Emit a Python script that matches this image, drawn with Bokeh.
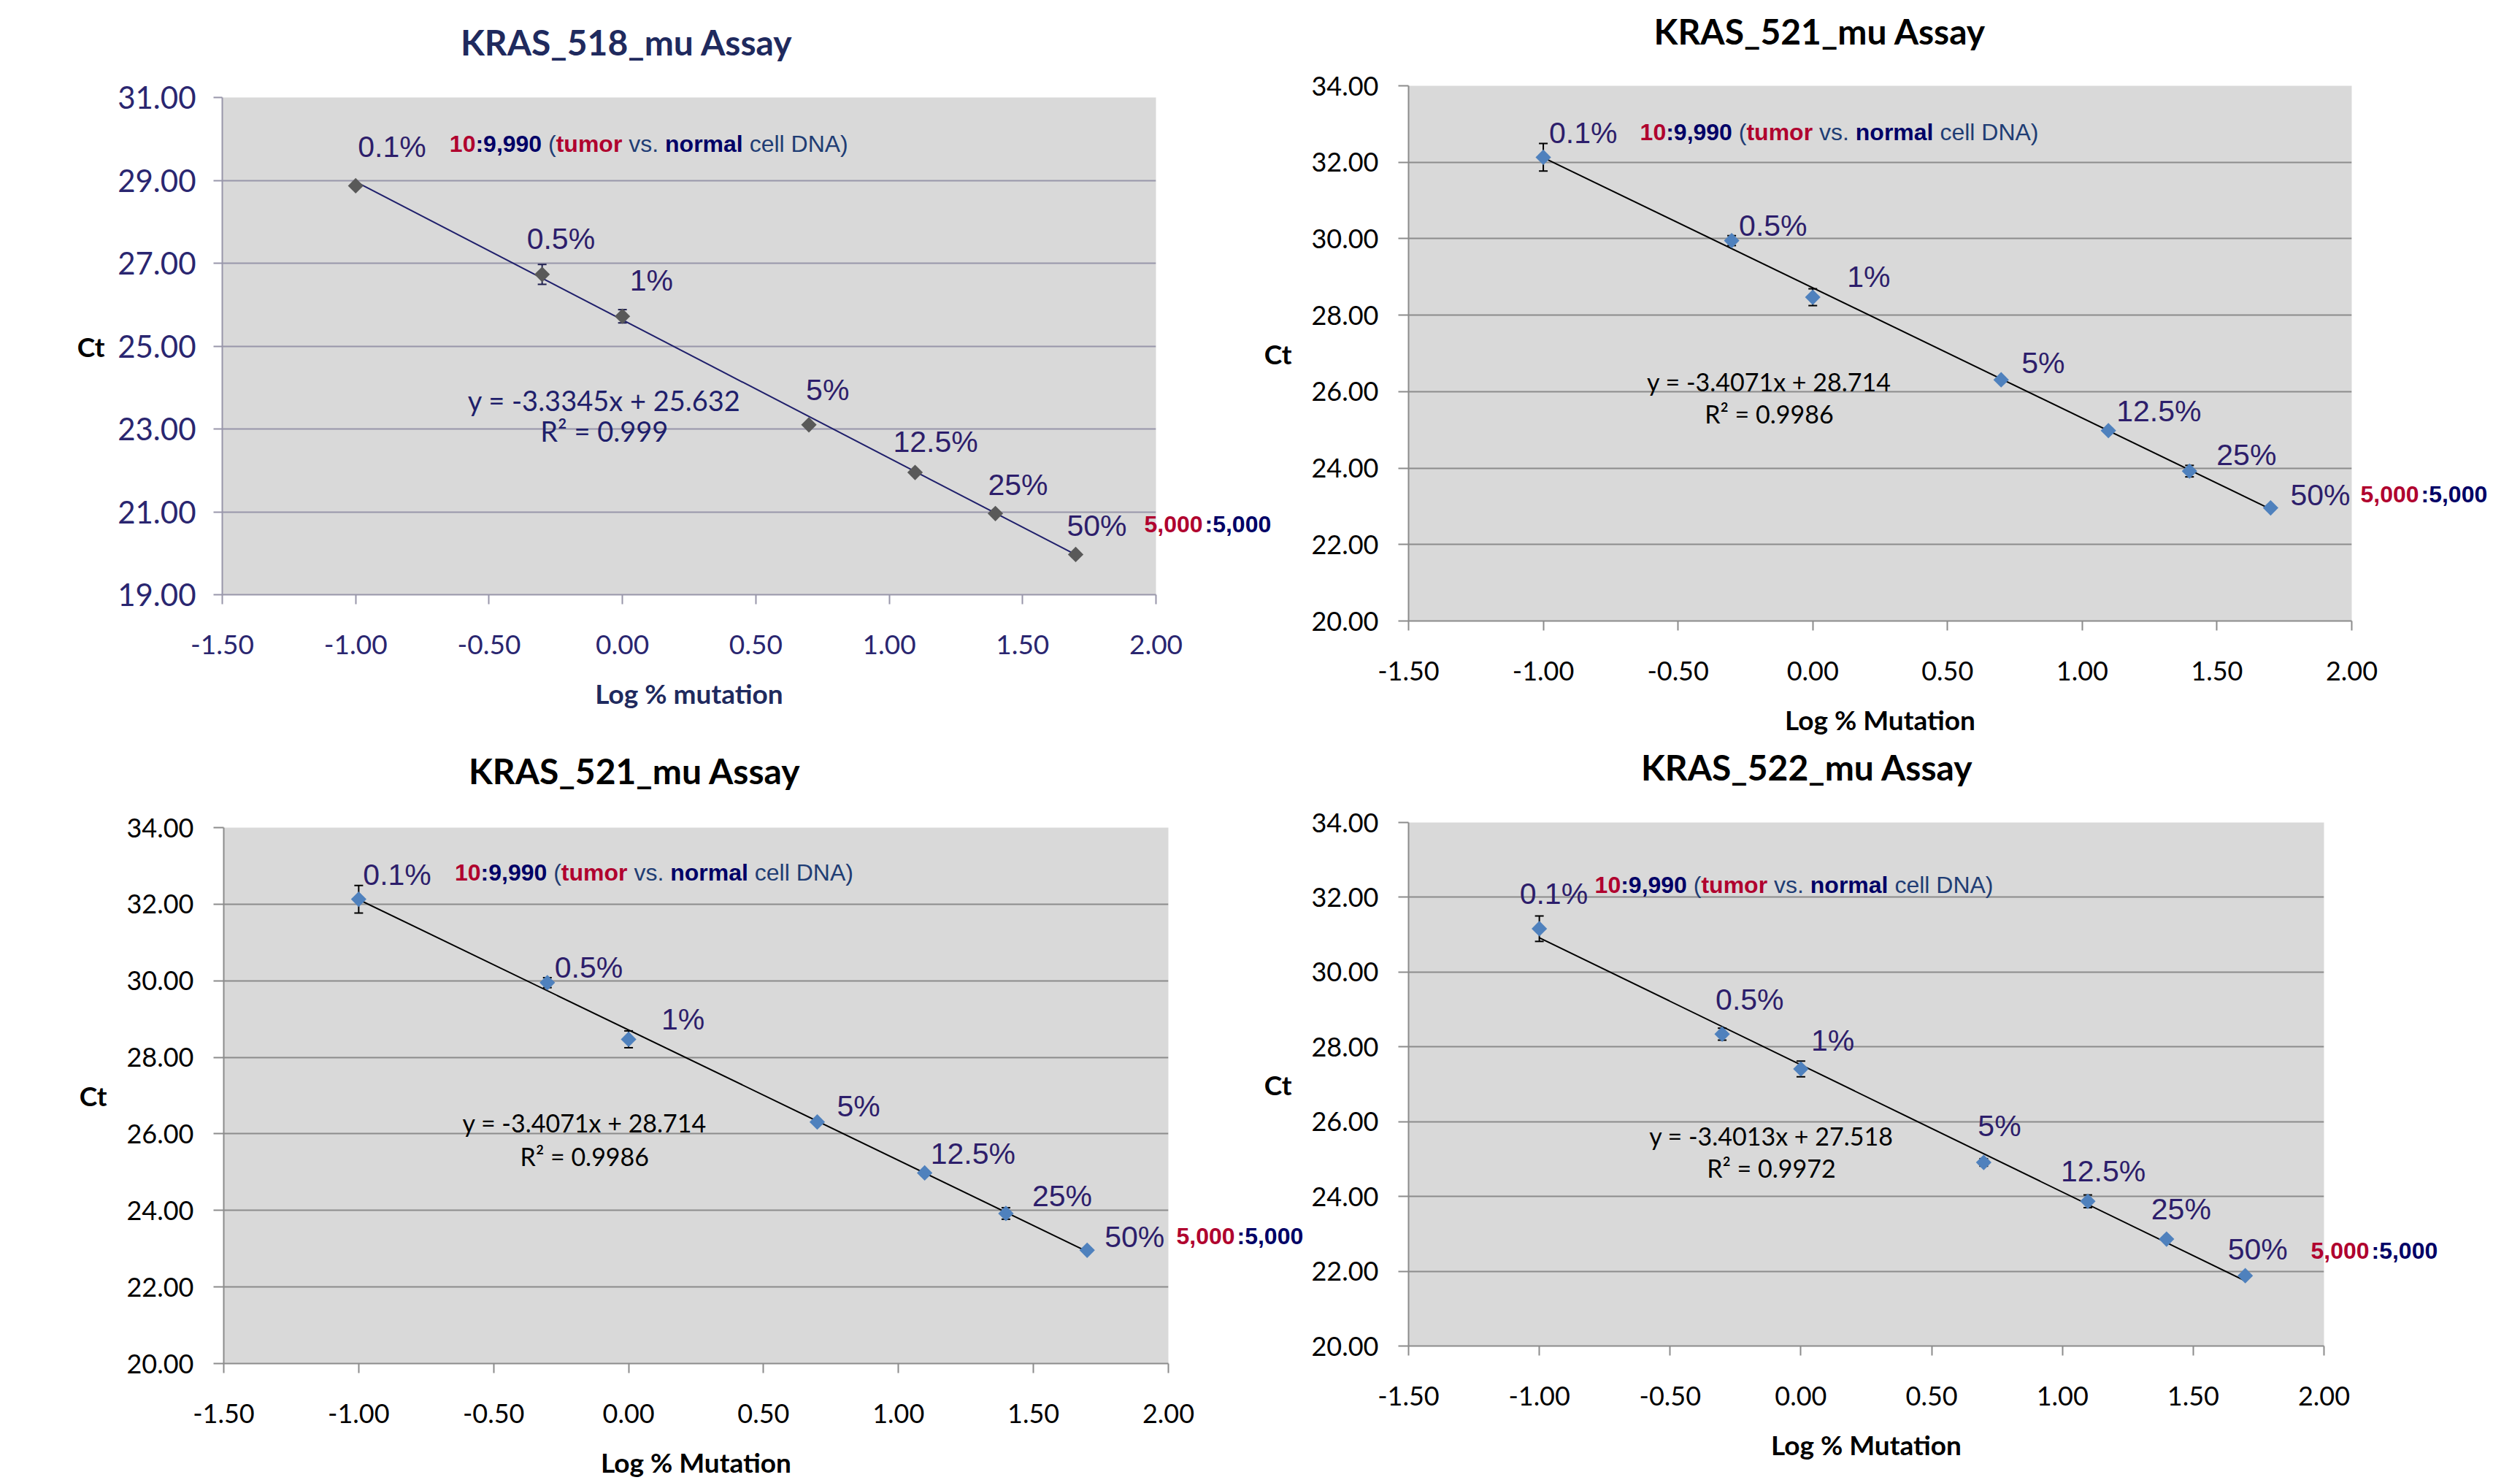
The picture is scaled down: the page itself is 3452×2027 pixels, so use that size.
import math
from bokeh.plotting import figure
from bokeh.layouts import row, column
from bokeh.models import (Range1d, FixedTicker, NumeralTickFormatter, Label, LinearAxis,
                          ColumnDataSource, Whisker, TeeHead)
from bokeh.embed import file_html
from bokeh.resources import INLINE

# ---------------- data ----------------
log_pct = [-1.0, -0.301, 0.0, 0.699, 1.097, 1.398, 1.699]
pct_labels = ["0.1%", "0.5%", "1%", "5%", "12.5%", "25%", "50%"]

ct_518 = [28.87, 26.73, 25.72, 23.10, 21.95, 20.96, 19.97]
sd_518 = [0.04, 0.24, 0.16, 0.05, 0.05, 0.05, 0.04]

ct_521 = [32.13, 29.95, 28.47, 26.31, 24.98, 23.92, 22.96]
sd_521 = [0.36, 0.13, 0.22, 0.05, 0.06, 0.15, 0.05]

ct_522 = [31.16, 28.34, 27.41, 24.91, 23.87, 22.86, 21.88]
sd_522 = [0.34, 0.16, 0.21, 0.10, 0.17, 0.06, 0.05]

titles = ["KRAS_518_mu Assay", "KRAS_521_mu Assay", "KRAS_521_mu Assay", "KRAS_522_mu Assay"]
slopes = [-3.3345, -3.4071, -3.4071, -3.4013]
intercepts = [25.632, 28.714, 28.714, 27.518]
r2_values = ["0.999", "0.9986", "0.9986", "0.9972"]
x_labels = ["Log % mutation", "Log % Mutation", "Log % Mutation", "Log % Mutation"]
y_label = "Ct"

x_ticks = [-1.5, -1.0, -0.5, 0.0, 0.5, 1.0, 1.5, 2.0]
y_ticks_518 = [19, 21, 23, 25, 27, 29, 31]
y_ticks_52x = [20, 22, 24, 26, 28, 30, 32, 34]

# ratio annotation: (text, bold, colour key)
ratio_low = [("10", True, "red"), (":9,990", True, "navy"), (" (", False, "blue"),
             ("tumor", True, "red"), (" vs. ", False, "blue"), ("normal", True, "navy"),
             (" cell DNA)", False, "blue")]
ratio_high = [("5,000", "red"), (":5,000", "navy")]

# ---------------- styles ----------------
COL = {"red": "#B0002E", "navy": "#000066", "blue": "#1F3D74"}
PURPLE = "#2D1E6B"
ARIAL = "Liberation Sans"
CALIBRI = "Lato"

REG_W = {" ": 278, "(": 333, ")": 333, ".": 278, ",": 278, ":": 278, "v": 500, "s": 500,
         "c": 500, "e": 556, "l": 222, "D": 722, "N": 722, "A": 667}
BOLD_W = {" ": 278, ":": 333, ",": 278, "t": 333, "u": 611, "m": 889, "o": 611, "r": 389,
          "n": 611, "a": 556, "l": 278}


def text_w(t, bold, size):
    tab = BOLD_W if bold else REG_W
    return sum(tab.get(ch, 556) for ch in t) * size / 1000.0


STYLE_A = dict(tick_color="#2A2670", ytick_size="42px", xtick_size="37px", grid="#9896AA",
               axis="#9896AA", marker="#595959", line="#1F1F6B", err="#1F1F50",
               title_color="#1F2A5E", xlabel_color="#1F2A5E", eq_color="#1F1F6B",
               eq_size="38px", ytick_out=12, ytick_standoff=24, ct_standoff=15)
STYLE_B = dict(tick_color="black", ytick_size="36px", xtick_size="36px", grid="#8C8C8C",
               axis="#8C8C8C", marker="#4F81BD", line="black", err="black",
               title_color="black", xlabel_color="black", eq_color="black",
               eq_size="34px", ytick_out=14, ytick_standoff=27, ct_standoff=24)

panels = [
    dict(ys=ct_518, sd=sd_518, yticks=y_ticks_518, style=STYLE_A,
         width=1744, height=1010, border=(133, 154, 196, 304), shift=0,
         title_x=0.016, title_standoff=48, end_standoff=-16, end_y=20.70,
         lab_off=[(3, 53), (-21, 49), (10, 49), (-4, 48), (-30, 42), (-10, 39), (-12, 39)],
         ann=(-0.648, 29.886), eq=(-0.068, 23.69, 22.95)),
    dict(ys=ct_521, sd=sd_521, yticks=y_ticks_52x, style=STYLE_B,
         width=1724, height=1010, border=(117, 231, 160, 198), shift=-16,
         title_x=0.027, title_standoff=47, end_standoff=12, end_y=23.32,
         lab_off=[(8, 33), (10, 21), (47, 28), (28, 23), (11, 27), (37, 22), (27, 18)],
         ann=(-0.641, 32.79), eq=(-0.162, 26.26, 25.42)),
    dict(ys=ct_521, sd=sd_521, yticks=y_ticks_52x, style=STYLE_B,
         width=1788, height=1017, border=(123, 186, 160, 306), shift=0,
         title_x=0.023, title_standoff=50, end_standoff=11, end_y=23.33,
         lab_off=[(6, 34), (10, 21), (45, 27), (27, 22), (8, 26), (36, 24), (24, 18)],
         ann=(-0.644, 32.82), eq=(-0.163, 26.29, 25.41)),
    dict(ys=ct_522, sd=sd_522, yticks=y_ticks_52x, style=STYLE_B,
         width=1724, height=1017, border=(116, 269, 184, 201), shift=-60,
         title_x=0.024, title_standoff=48, end_standoff=-18, end_y=22.545,
         lab_off=[(-27, 48), (-9, 47), (14, 39), (-8, 50), (-37, 41), (-21, 41), (-24, 36)],
         ann=(-0.788, 32.34), eq=(-0.113, 25.62, 24.76)),
]


def add_rich(p, x, y, segments, size):
    cum = 0.0
    for text, bold, ckey in segments:
        stripped = text.lstrip(" ")
        lead = text_w(text[:len(text) - len(stripped)], bold, size)
        shown = stripped.rstrip(" ")
        if shown:
            p.add_layout(Label(x=x, y=y, x_offset=cum + lead, text=shown,
                               text_font=ARIAL, text_font_size=f"{size}px",
                               text_font_style="bold" if bold else "normal",
                               text_color=COL[ckey], text_align="left",
                               text_baseline="middle"))
        cum += text_w(text, bold, size)


def text_axis(tick, text, standoff, font, size, style, color):
    """An axis without line or ticks whose single tick label carries a text."""
    return LinearAxis(ticker=FixedTicker(ticks=[tick]), major_label_overrides={tick: text},
                      axis_line_color=None, major_tick_line_color=None,
                      minor_tick_line_color=None, major_tick_in=0, major_tick_out=0,
                      major_label_standoff=standoff, major_label_text_font=font,
                      major_label_text_font_size=size, major_label_text_font_style=style,
                      major_label_text_color=color)


def make_panel(i, cfg):
    st = cfg["style"]
    yt = cfg["yticks"]
    p = figure(width=cfg["width"], height=cfg["height"],
               x_range=Range1d(x_ticks[0], x_ticks[-1]), y_range=Range1d(yt[0], yt[-1]),
               output_backend="svg", toolbar_location=None, tools="")
    if "frame_align" in p.properties():
        p.frame_align = False
    top, right, bottom, left = cfg["border"]
    p.min_border_top = top
    p.min_border_right = right
    p.min_border_bottom = bottom
    p.min_border_left = left
    p.background_fill_color = "#D9D9D9"
    p.border_fill_color = "white"
    if cfg["shift"]:
        p.border_fill_alpha = 0
        p.styles = {"margin-left": f"{cfg['shift']}px"}
    p.outline_line_color = None

    p.xgrid.visible = False
    p.ygrid.ticker = FixedTicker(ticks=yt)
    p.ygrid.grid_line_color = st["grid"]
    p.ygrid.grid_line_width = 2

    xa = p.xaxis[0]
    ya = p.yaxis[0]
    xa.ticker = FixedTicker(ticks=x_ticks)
    ya.ticker = FixedTicker(ticks=yt)
    xa.formatter = NumeralTickFormatter(format="0.00")
    ya.formatter = NumeralTickFormatter(format="0.00")
    for ax in (xa, ya):
        ax.axis_line_color = st["axis"]
        ax.axis_line_width = 2
        ax.major_tick_line_color = st["axis"]
        ax.major_tick_line_width = 2
        ax.major_tick_in = 0
        ax.minor_tick_line_color = None
        ax.major_label_text_font = CALIBRI
        ax.major_label_text_color = st["tick_color"]
    xa.major_tick_out = 13
    xa.major_label_standoff = 42
    xa.major_label_text_font_size = st["xtick_size"]
    xa.axis_label = x_labels[i]
    xa.axis_label_standoff = 28
    xa.axis_label_text_font = CALIBRI
    xa.axis_label_text_font_size = "37px"
    xa.axis_label_text_font_style = "bold"
    xa.axis_label_text_color = st["xlabel_color"]
    ya.major_tick_out = st["ytick_out"]
    ya.major_label_standoff = st["ytick_standoff"]
    ya.major_label_text_font_size = st["ytick_size"]

    # chart title, above the frame
    p.add_layout(text_axis(cfg["title_x"], titles[i], cfg["title_standoff"], CALIBRI,
                           "48px", "bold", st["title_color"]), "above")

    # "Ct" axis title, horizontal, left of the tick labels
    mid = (yt[0] + yt[-1]) / 2.0
    p.add_layout(text_axis(mid, y_label, st["ct_standoff"], CALIBRI, "37px", "bold",
                           "black"), "left")

    # "5,000:5,000" label next to the 50% point, outside the frame
    ey = cfg["end_y"]
    p.add_layout(text_axis(ey, ratio_high[0][0], cfg["end_standoff"], ARIAL, "32px", "bold",
                           COL[ratio_high[0][1]]), "right")
    p.add_layout(text_axis(ey, ratio_high[1][0], 0, ARIAL, "32px", "bold",
                           COL[ratio_high[1][1]]), "right")

    ys = cfg["ys"]
    sd = cfg["sd"]
    src = ColumnDataSource(dict(x=log_pct, y=ys,
                                upper=[a + b for a, b in zip(ys, sd)],
                                lower=[a - b for a, b in zip(ys, sd)]))
    wk = Whisker(source=src, base="x", upper="upper", lower="lower", level="underlay",
                 line_color=st["err"], line_width=2,
                 upper_head=TeeHead(size=12, line_color=st["err"], line_width=2),
                 lower_head=TeeHead(size=12, line_color=st["err"], line_width=2))
    p.add_layout(wk)

    # trend line
    x0, x1 = min(log_pct), max(log_pct)
    p.line([x0, x1], [intercepts[i] + slopes[i] * x0, intercepts[i] + slopes[i] * x1],
           line_color=st["line"], line_width=2)

    p.scatter("x", "y", source=src, marker="square", angle=math.pi / 4, size=15,
              fill_color=st["marker"], line_color=None)

    # data labels
    for xv, yv, lab, (dx, dy) in zip(log_pct, ys, pct_labels, cfg["lab_off"]):
        p.add_layout(Label(x=xv, y=yv, x_offset=dx, y_offset=dy, text=lab,
                           text_font=ARIAL, text_font_size="41px", text_color=PURPLE,
                           text_align="left", text_baseline="middle"))

    # ratio annotation at the low end
    add_rich(p, cfg["ann"][0], cfg["ann"][1], ratio_low, 32)

    # equation
    ex, eqy, ry = cfg["eq"]
    eq_text = f"y = {slopes[i]}x + {intercepts[i]}"
    p.add_layout(Label(x=ex, y=eqy, text=eq_text, text_font=CALIBRI,
                       text_font_size=st["eq_size"], text_color=st["eq_color"],
                       text_align="center", text_baseline="middle"))
    p.add_layout(Label(x=ex, y=ry, text=f"R\u00b2 = {r2_values[i]}", text_font=CALIBRI,
                       text_font_size=st["eq_size"], text_color=st["eq_color"],
                       text_align="center", text_baseline="middle"))
    return p


figs = [make_panel(i, c) for i, c in enumerate(panels)]
layout = column(row(figs[0], figs[1]), row(figs[2], figs[3]))
open("out.html", "w").write(file_html(layout, INLINE, "KRAS assays"))
